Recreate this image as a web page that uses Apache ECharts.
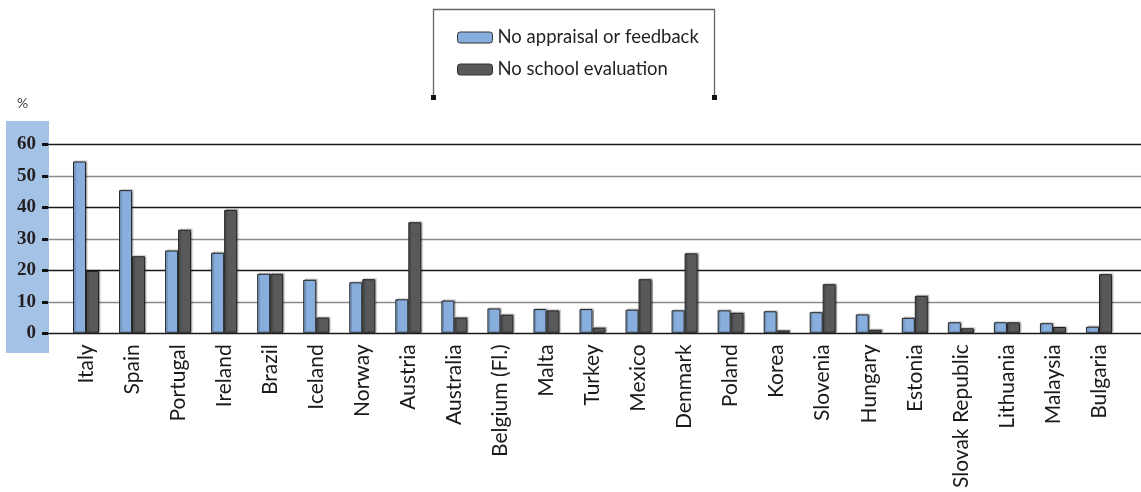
<!DOCTYPE html>
<html>
<head>
<meta charset="utf-8">
<script src="https://cdn.jsdelivr.net/npm/echarts@6/dist/echarts.min.js"></script>
<style>html,body{margin:0;padding:0;background:#fff}#c{width:1141px;height:492px}</style>
</head>
<body>
<div id="c"></div>
<script>
const categories = ["Italy","Spain","Portugal","Ireland","Brazil","Iceland","Norway","Austria","Australia","Belgium (Fl.)","Malta","Turkey","Mexico","Denmark","Poland","Korea","Slovenia","Hungary","Estonia","Slovak Republic","Lithuania","Malaysia","Bulgaria"];
const noAppraisal = [54.6,45.5,26.3,25.6,18.9,17.0,16.2,10.8,10.4,7.9,7.7,7.7,7.5,7.3,7.3,7.0,6.7,6.0,4.9,3.5,3.5,3.2,2.1];
const noSchoolEval = [19.8,24.5,32.9,39.2,18.9,5.0,17.2,35.3,5.0,5.9,7.3,1.8,17.2,25.4,6.5,0.9,15.6,1.1,11.9,1.6,3.5,2.0,18.8];
const seriesNames = ["No appraisal or feedback","No school evaluation"];
const yTicks = [0,10,20,30,40,50,60];

const chart = echarts.init(document.getElementById('c'), null, {renderer:'canvas'});
const TOP = 144.5, BOTTOM = 158.7;
const barStyle = (c) => ({color:c, borderColor:'#222', borderWidth:1, shadowColor:'rgba(0,0,0,0.25)', shadowOffsetX:1.5, shadowOffsetY:-1, shadowBlur:1});
chart.setOption({
  animation:false,
  backgroundColor:'#fff',
  graphic:[
    {type:'rect', z:-10, shape:{x:6,y:121,width:43,height:232}, style:{fill:'#a4c2e5'}},
    {type:'text', left:17, top:96, style:{text:'%', fill:'#444', font:'14px Lato'}},
    {type:'polyline', shape:{points:[[433.5,97],[433.5,9.5],[714.5,9.5],[714.5,97]]}, style:{stroke:'#666', lineWidth:1.3, fill:null}},
    {type:'rect', shape:{x:431,y:95,width:5,height:5}, style:{fill:'#111'}},
    {type:'rect', shape:{x:712,y:95,width:5,height:5}, style:{fill:'#111'}}
  ],
  legend:{
    orient:'vertical', left:452, top:23, itemWidth:35, itemHeight:11, itemGap:13,
    data:seriesNames,
    textStyle:{fontFamily:'Lato', fontSize:18.5, color:'#231f20', padding:[0,0,0,0]},
    itemStyle:{borderColor:'#333', borderWidth:1}
  },
  grid:[
    {left:48, right:0, top:TOP, bottom:BOTTOM},
    {left:63, right:19, top:TOP, bottom:BOTTOM}
  ],
  xAxis:[
    {gridIndex:0, type:'value', show:false, min:0, max:1},
    {gridIndex:1, type:'category', data:categories,
     axisLine:{show:false}, axisTick:{show:false},
     axisLabel:{rotate:90, margin:11, fontFamily:'Lato', fontSize:21, color:'#1a1a1a', interval:0}}
  ],
  yAxis:[
    {gridIndex:0, type:'value', min:0, max:60, interval:10,
     axisLine:{show:false},
     axisTick:{show:true, length:6, lineStyle:{color:'#111', width:3}},
     axisLabel:{margin:12, fontFamily:'Liberation Serif', fontWeight:'bold', fontSize:19, color:'#231f20',
       formatter:(v)=> yTicks.includes(v) ? String(v) : ''},
     splitLine:{show:true, lineStyle:{color:['#1a1a1a','#8a8a8a','#1a1a1a','#8a8a8a','#1a1a1a','#8a8a8a','#1a1a1a'], width:1.3}}},
    {gridIndex:1, type:'value', min:0, max:60, interval:10, show:false, splitLine:{show:false}}
  ],
  series:[
    {name:seriesNames[0], type:'bar', xAxisIndex:1, yAxisIndex:1, data:noAppraisal, barWidth:13, barGap:'0%', itemStyle:barStyle('#87aedc')},
    {name:seriesNames[1], type:'bar', xAxisIndex:1, yAxisIndex:1, data:noSchoolEval, barWidth:13, barGap:'0%', itemStyle:barStyle('#58595b')}
  ]
});
</script>
</body>
</html>
